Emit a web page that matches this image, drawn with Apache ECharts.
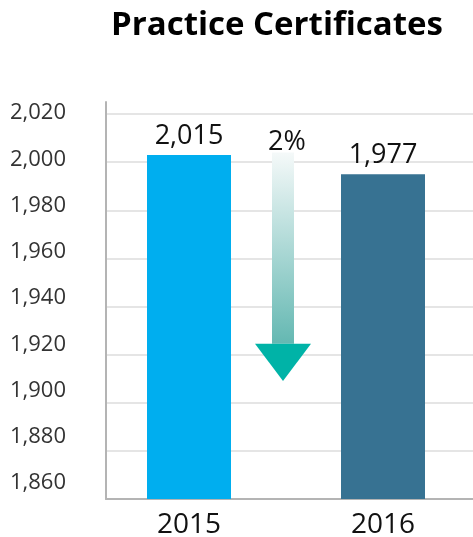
<!DOCTYPE html>
<html lang="en">
<head>
    <meta charset="utf-8">
    <title>Practice Certificates</title>
    <script src="https://cdn.jsdelivr.net/npm/echarts@6/dist/echarts.min.js"></script>
    <style>
        html, body { margin: 0; padding: 0; background: #ffffff; }
        #main { width: 473px; height: 537px; }
    </style>
</head>
<body>
<div id="main"></div>
<script type="text/javascript">
    // data
    const years = ['2015', '2016'];
    const barValues = [2003, 1995];          // drawn bar heights
    const barLabels = ['2,015', '1,977'];    // printed values
    const barColors = ['#00aeef', '#377292'];
    const yMin = 1860;
    const yMax = 2020;
    const yStep = 20;
    const changeLabel = '2%';
    // arrow: top of shaft, start of head, tip (in axis units)
    const arrowValues = [2004, 1924.5, 1909];

    const chart = echarts.init(document.getElementById('main'));

    const option = {
        animation: false,
        title: {
            text: 'Practice Certificates',
            left: 272,
            top: 4,
            textAlign: 'center',
            textStyle: {
                fontFamily: 'Open Sans',
                fontWeight: 'bold',
                fontSize: 33,
                color: '#000000'
            }
        },
        grid: [
            // frame: axis lines and grid lines
            {left: 106, right: 0, top: 102, bottom: 38, outerBoundsMode: 'none'},
            // bars
            {left: 92, width: 388, top: 114, bottom: 38, outerBoundsMode: 'none'},
            // y labels
            {left: 106, right: 0, top: 113, bottom: 54, outerBoundsMode: 'none'}
        ],
        xAxis: [
            {
                gridIndex: 0,
                type: 'value',
                min: 0,
                max: 1,
                axisLine: {show: true, onZero: false, lineStyle: {color: '#b4b4b4', width: 2}},
                axisTick: {show: false},
                axisLabel: {show: false},
                splitLine: {show: false}
            },
            {
                gridIndex: 1,
                type: 'category',
                data: years,
                axisLine: {show: false},
                axisTick: {show: false},
                axisLabel: {
                    margin: 12,
                    fontFamily: 'Open Sans',
                    fontSize: 28,
                    color: '#111111'
                }
            },
            {
                gridIndex: 2,
                type: 'value',
                show: false
            }
        ],
        yAxis: [
            {
                gridIndex: 0,
                type: 'value',
                min: yMin,
                max: yMax + 5,
                interval: yStep,
                axisLine: {show: true, lineStyle: {color: '#b4b4b4', width: 2}},
                axisTick: {show: false},
                axisLabel: {show: false},
                splitLine: {
                    show: true,
                    lineStyle: {
                        color: ['#e5e5e5', '#e5e5e5', '#e5e5e5', '#e5e5e5', '#e5e5e5',
                            '#e5e5e5', '#e5e5e5', '#e5e5e5', '#e5e5e5', 'rgba(0,0,0,0)'],
                        width: 2
                    }
                }
            },
            {
                gridIndex: 1,
                type: 'value',
                min: yMin,
                max: yMax,
                interval: yStep,
                show: false
            },
            {
                gridIndex: 2,
                type: 'value',
                min: yMin,
                max: yMax,
                interval: yStep,
                axisLine: {show: false},
                axisTick: {show: false},
                splitLine: {show: false},
                axisLabel: {
                    margin: 40,
                    fontFamily: 'Open Sans',
                    fontSize: 22,
                    color: '#333333',
                    formatter: function (value)
                    {
                        return value.toLocaleString('en-US');
                    }
                }
            }
        ],
        series: [
            {
                type: 'bar',
                xAxisIndex: 1,
                yAxisIndex: 1,
                barWidth: 84,
                data: barValues.map(function (v, i)
                {
                    return {value: v, itemStyle: {color: barColors[i]}};
                }),
                label: {
                    show: true,
                    position: 'top',
                    distance: 5,
                    fontFamily: 'Open Sans',
                    fontSize: 27,
                    color: '#111111',
                    formatter: function (p)
                    {
                        return barLabels[p.dataIndex];
                    }
                }
            },
            {
                type: 'custom',
                xAxisIndex: 1,
                yAxisIndex: 1,
                data: [0],
                renderItem: function (params, api)
                {
                    const a = api.coord([0, arrowValues[0]]);
                    const b = api.coord([1, arrowValues[0]]);
                    const x = (a[0] + b[0]) / 2 - 3;
                    const top = a[1];
                    const headY = api.coord([0, arrowValues[1]])[1];
                    const tipY = api.coord([0, arrowValues[2]])[1];
                    return {
                        type: 'group',
                        children: [
                            {
                                type: 'rect',
                                shape: {x: x - 11, y: top, width: 22, height: headY - top},
                                style: {
                                    fill: new echarts.graphic.LinearGradient(0, 0, 0, 1, [
                                        {offset: 0, color: '#f5f9f9'},
                                        {offset: 1, color: '#64b8b2'}
                                    ])
                                }
                            },
                            {
                                type: 'polygon',
                                shape: {points: [[x - 28, headY], [x + 28, headY], [x, tipY]]},
                                style: {fill: '#00b3a7'}
                            },
                            {
                                type: 'text',
                                x: x + 4,
                                y: top - 10,
                                style: {
                                    text: changeLabel,
                                    fontFamily: 'Open Sans',
                                    fontSize: 27,
                                    fill: '#111111',
                                    align: 'center',
                                    verticalAlign: 'middle'
                                }
                            }
                        ]
                    };
                }
            }
        ]
    };

    chart.setOption(option);
</script>
</body>
</html>
